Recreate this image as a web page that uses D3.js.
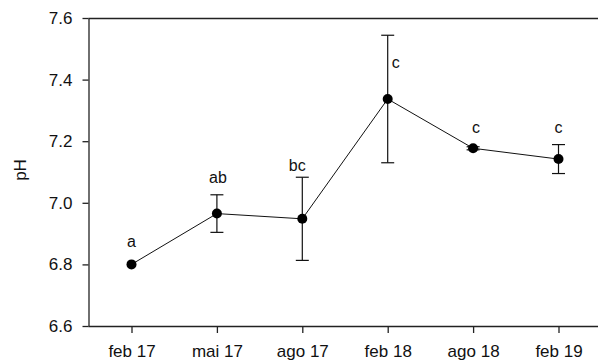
<!DOCTYPE html>
<html>
<head>
<meta charset="utf-8">
<script src="https://cdn.jsdelivr.net/npm/d3@7"></script>
<style>
  html, body { margin: 0; padding: 0; background: #fff; }
  svg { display: block; }
  text { font-family: "Liberation Sans", Arial, sans-serif; fill: #111; }
</style>
</head>
<body>
<svg id="chart" width="598" height="360"></svg>
<script>
const months = ["feb 17", "mai 17", "ago 17", "feb 18", "ago 18", "feb 19"];
const phMean = [6.80, 6.965, 6.948, 7.337, 7.177, 7.142];
const phErr  = [0.0, 0.061, 0.135, 0.207, 0.005, 0.047];
const letters = ["a", "ab", "bc", "c", "c", "c"];
const letterY = [6.857, 7.063, 7.104, 7.438, 7.226, 7.226];
const letterDx = [0, 1, -5, 8, 3, 0];
const yTicks = [6.6, 6.8, 7.0, 7.2, 7.4, 7.6];

const svg = d3.select("#chart");
const L = 88.5, R = 600, T = 18, B = 326;

const x = d3.scalePoint().domain(months).range([131.5, 558.5]);
const y = d3.scaleLinear().domain([6.6, 7.6]).range([B, T]);

// top border
svg.append("line").attr("x1", L).attr("x2", R).attr("y1", T + 0.5).attr("y2", T + 0.5)
  .attr("stroke", "#222").attr("stroke-width", 1.3);

// axes
const yAxis = svg.append("g").attr("transform", `translate(${L},0)`)
  .call(d3.axisLeft(y).tickValues(yTicks).tickFormat(d3.format(".1f")).tickSize(6).tickPadding(10).tickSizeOuter(0));
const xAxis = svg.append("g").attr("transform", `translate(0,${B})`)
  .call(d3.axisBottom(x).tickSize(7).tickPadding(12).tickSizeOuter(0));

[yAxis, xAxis].forEach(g => {
  g.select(".domain").attr("stroke", "#222").attr("stroke-width", 1.3);
  g.selectAll(".tick line").attr("stroke", "#222").attr("stroke-width", 1.3);
  g.selectAll(".tick text").attr("font-size", 17).attr("fill", "#111")
    .style("font-family", "'Liberation Sans', Arial, sans-serif");
});
xAxis.select(".domain").attr("d", `M${L},0.5H${R}`);

// y label
svg.append("text").attr("transform", "translate(26,170) rotate(-90)")
  .attr("text-anchor", "middle").attr("font-size", 17).text("pH");

// line
const line = d3.line().x((d, i) => x(months[i])).y(d => y(d));
svg.append("path").datum(phMean).attr("d", line)
  .attr("fill", "none").attr("stroke", "#111").attr("stroke-width", 1);

// error bars
const eb = svg.append("g").attr("stroke", "#111").attr("stroke-width", 1.2);
phMean.forEach((m, i) => {
  const e = phErr[i];
  if (e <= 0) return;
  const cx = x(months[i]);
  eb.append("line").attr("x1", cx).attr("x2", cx).attr("y1", y(m - e)).attr("y2", y(m + e));
  [m - e, m + e].forEach(v => {
    eb.append("line").attr("x1", cx - 6.5).attr("x2", cx + 6.5).attr("y1", y(v)).attr("y2", y(v));
  });
});

// points
svg.append("g").selectAll("circle").data(phMean).join("circle")
  .attr("cx", (d, i) => x(months[i])).attr("cy", d => y(d)).attr("r", 5)
  .attr("fill", "#000");

// letters
svg.append("g").selectAll("text").data(letters).join("text")
  .attr("x", (d, i) => x(months[i]) + letterDx[i])
  .attr("y", (d, i) => y(letterY[i]))
  .attr("text-anchor", "middle").attr("font-size", 16).text(d => d);
</script>
</body>
</html>
